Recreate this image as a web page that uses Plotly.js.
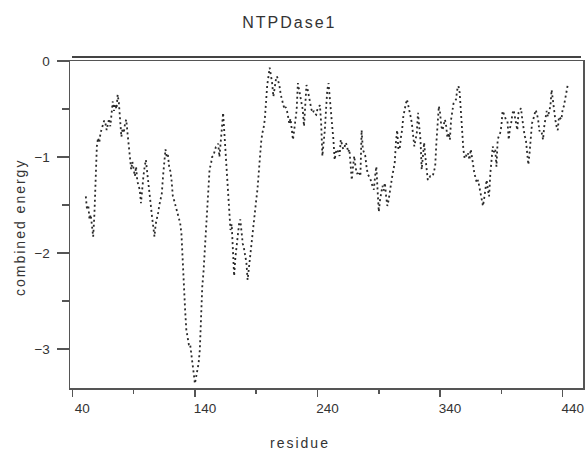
<!DOCTYPE html>
<html>
<head>
<meta charset="utf-8">
<script src="https://cdn.plot.ly/plotly-3.0.1.min.js"></script>
<style>
  html, body { margin: 0; padding: 0; background: #fff; }
  #chart { width: 587px; height: 451px; }
  .gtitle, .annotation-text { letter-spacing: 2px; }
</style>
</head>
<body>
<div id="chart"></div>
<script>
// residue numbers
const residues = [
  51,52,53,54,55,56,57,58,59,60,61,62,63,64,65,66,67,68,69,70,
  71,72,73,74,75,76,77,78,79,80,81,82,83,84,85,86,87,88,89,90,
  91,92,93,94,95,96,97,98,99,100,101,102,103,104,105,106,107,108,109,110,
  111,112,113,114,115,116,117,118,119,120,121,122,123,124,125,126,127,128,129,130,
  131,132,133,134,135,136,137,138,139,140,141,142,143,144,145,146,147,148,149,150,
  151,152,153,154,155,156,157,158,159,160,161,162,163,164,165,166,167,168,169,170,
  171,172,173,174,175,176,177,178,179,180,181,182,183,184,185,186,187,188,189,190,
  191,192,193,194,195,196,197,198,199,200,201,202,203,204,205,206,207,208,209,210,
  211,212,213,214,215,216,217,218,219,220,221,222,223,224,225,226,227,228,229,230,
  231,232,233,234,235,236,237,238,239,240,241,242,243,244,245,246,247,248,249,250,
  251,252,253,254,255,256,257,258,259,260,261,262,263,264,265,266,267,268,269,270,
  271,272,273,274,275,276,277,278,279,280,281,282,283,284,285,286,287,288,289,290,
  291,292,293,294,295,296,297,298,299,300,301,302,303,304,305,306,307,308,309,310,
  311,312,313,314,315,316,317,318,319,320,321,322,323,324,325,326,327,328,329,330,
  331,332,333,334,335,336,337,338,339,340,341,342,343,344,345,346,347,348,349,350,
  351,352,353,354,355,356,357,358,359,360,361,362,363,364,365,366,367,368,369,370,
  371,372,373,374,375,376,377,378,379,380,381,382,383,384,385,386,387,388,389,390,
  391,392,393,394,395,396,397,398,399,400,401,402,403,404,405,406,407,408,409,410,
  411,412,413,414,415,416,417,418,419,420,421,422,423,424,425,426,427,428,429,430,
  431,432,433,434,435,436,437,438,439,440,441,442,443,444
];
// combined energy per residue
const combinedEnergy = [
  -1.41,-1.55,-1.50,-1.65,-1.60,-1.70,-1.83,-1.60,-1.20,-0.89,-0.80,-0.85,-0.75,-0.70,-0.66,-0.62,-0.65,-0.72,-0.66,-0.60,
  -0.68,-0.58,-0.42,-0.52,-0.45,-0.50,-0.35,-0.44,-0.60,-0.79,-0.70,-0.75,-0.65,-0.61,-0.75,-0.89,-1.00,-1.13,-1.05,-1.15,
  -1.20,-1.10,-1.25,-1.30,-1.34,-1.48,-1.28,-1.20,-1.10,-1.03,-1.15,-1.25,-1.38,-1.50,-1.62,-1.75,-1.83,-1.70,-1.65,-1.58,
  -1.50,-1.42,-1.38,-1.20,-1.05,-0.92,-1.00,-0.98,-1.10,-1.15,-1.25,-1.41,-1.45,-1.50,-1.55,-1.58,-1.62,-1.69,-1.80,-2.10,
  -2.35,-2.59,-2.80,-2.87,-2.95,-2.94,-3.08,-3.15,-3.25,-3.36,-3.29,-3.22,-3.15,-3.01,-2.59,-2.35,-2.20,-1.97,-1.75,-1.55,
  -1.27,-1.12,-1.08,-1.00,-0.99,-0.95,-0.90,-0.89,-0.86,-1.00,-0.80,-0.70,-0.54,-0.75,-1.00,-1.20,-1.40,-1.58,-1.76,-1.70,
  -2.07,-2.24,-2.05,-1.93,-1.80,-1.70,-1.65,-1.82,-1.90,-1.95,-2.05,-2.10,-2.28,-2.15,-2.05,-1.97,-1.80,-1.65,-1.58,-1.45,
  -1.34,-1.15,-0.99,-0.85,-0.75,-0.70,-0.61,-0.37,-0.25,-0.16,-0.07,-0.15,-0.23,-0.37,-0.25,-0.20,-0.16,-0.20,-0.26,-0.35,
  -0.40,-0.44,-0.50,-0.48,-0.51,-0.58,-0.65,-0.60,-0.75,-0.82,-0.72,-0.60,-0.51,-0.23,-0.30,-0.35,-0.40,-0.51,-0.68,-0.45,
  -0.25,-0.30,-0.38,-0.44,-0.50,-0.54,-0.52,-0.55,-0.56,-0.50,-0.48,-0.46,-0.65,-0.99,-0.85,-0.72,-0.50,-0.30,-0.23,-0.40,
  -0.60,-0.68,-0.82,-1.03,-0.95,-0.92,-0.95,-0.99,-0.82,-0.88,-0.92,-0.90,-0.85,-0.88,-0.95,-0.92,-1.05,-1.24,-1.10,-0.99,
  -1.10,-1.17,-1.17,-1.15,-1.20,-0.72,-0.92,-0.95,-0.99,-1.10,-1.18,-1.20,-1.22,-1.27,-1.30,-1.34,-1.20,-1.10,-1.34,-1.57,
  -1.45,-1.38,-1.30,-1.35,-1.27,-1.41,-1.51,-1.45,-1.34,-1.28,-1.20,-1.12,-1.06,-0.85,-0.72,-0.92,-0.92,-0.80,-0.72,-0.58,
  -0.50,-0.45,-0.40,-0.45,-0.51,-0.58,-0.65,-0.79,-0.89,-0.82,-0.75,-0.54,-0.70,-0.82,-1.13,-0.96,-0.85,-1.00,-1.17,-1.24,
  -1.22,-1.20,-1.20,-1.20,-1.15,-1.10,-0.85,-0.68,-0.47,-0.54,-0.68,-0.72,-0.65,-0.61,-0.68,-0.80,-0.75,-0.82,-0.61,-0.50,
  -0.44,-0.42,-0.40,-0.30,-0.26,-0.33,-0.54,-0.72,-0.92,-1.01,-0.98,-1.00,-0.96,-1.03,-0.92,-1.00,-1.10,-1.17,-1.22,-1.27,
  -1.24,-1.31,-1.41,-1.45,-1.51,-1.43,-1.35,-1.24,-1.34,-1.41,-1.17,-0.99,-0.89,-0.95,-0.92,-1.10,-0.82,-0.78,-0.75,-0.68,
  -0.52,-0.55,-0.58,-0.62,-0.63,-0.82,-0.70,-0.65,-0.55,-0.51,-0.58,-0.65,-0.72,-0.54,-0.52,-0.49,-0.60,-0.72,-0.78,-0.82,
  -0.92,-1.08,-0.96,-0.75,-0.65,-0.61,-0.55,-0.51,-0.55,-0.61,-0.73,-0.72,-0.75,-0.82,-0.68,-0.60,-0.52,-0.58,-0.50,-0.47,
  -0.30,-0.40,-0.55,-0.61,-0.68,-0.72,-0.58,-0.60,-0.61,-0.50,-0.47,-0.40,-0.30,-0.26
];
const xTickVals = [40, 140, 240, 340, 440];
const xTickText = ['40', '140', '240', '340', '440'];
const xMinorVals = [90, 190, 290, 390];
const yTickVals = [0, -1, -2, -3];
const yTickText = ['0', '\u22121', '\u22122', '\u22123'];
const yMinorVals = [-0.5, -1.5, -2.5];

const axisColor = '#555';
const textColor = '#333';
const font = 'Liberation Sans, Arial, Helvetica, sans-serif';

const trace = {
  x: residues,
  y: combinedEnergy,
  type: 'scatter',
  mode: 'lines',
  line: { color: '#2a2a2a', width: 1.8, dash: '2px,3px' },
  hoverinfo: 'skip'
};

const layout = {
  width: 587,
  height: 451,
  margin: { l: 70, r: 4, t: 61, b: 63 },
  paper_bgcolor: '#fff',
  plot_bgcolor: '#fff',
  showlegend: false,
  font: { family: font, color: textColor, size: 13 },
  title: {
    text: 'NTPDase1',
    font: { family: font, size: 16, color: textColor },
    x: 0.493, xanchor: 'center', xref: 'container',
    y: 1 - 22 / 451, yanchor: 'middle', yref: 'container'
  },
  xaxis: {
    range: [38.1, 456.6],
    tickmode: 'array',
    tickvals: xTickVals,
    ticktext: xTickText,
    ticks: 'outside',
    ticklen: 7,
    tickwidth: 1.5,
    tickcolor: axisColor,
    ticklabelshift: 10,
    tickfont: { family: font, size: 13.5, color: textColor },
    minor: { tickmode: 'array', tickvals: xMinorVals, ticks: 'outside', ticklen: 4, tickwidth: 1.5, tickcolor: axisColor, showgrid: false },
    showline: true,
    linecolor: axisColor,
    linewidth: 1.5,
    mirror: true,
    showgrid: false,
    zeroline: false,
    fixedrange: true
  },
  yaxis: {
    range: [-327 / 96, 0],
    tickmode: 'array',
    tickvals: yTickVals,
    ticktext: yTickText,
    ticks: 'outside',
    ticklen: 12,
    tickwidth: 1.5,
    tickcolor: axisColor,
    ticklabelstandoff: 4,
    tickfont: { family: font, size: 13.5, color: textColor },
    minor: { tickmode: 'array', tickvals: yMinorVals, ticks: 'outside', ticklen: 7, tickwidth: 1.5, tickcolor: axisColor, showgrid: false },
    showline: true,
    linecolor: axisColor,
    linewidth: 1.5,
    mirror: true,
    showgrid: false,
    zeroline: false,
    fixedrange: true
  },
  shapes: [
    {
      type: 'line', xref: 'paper', yref: 'paper',
      x0: 2 / 513, x1: 511 / 513, y0: 1 + 4 / 327, y1: 1 + 4 / 327,
      line: { color: '#444', width: 2 }
    }
  ],
  annotations: [
    {
      text: 'residue', xref: 'paper', yref: 'paper',
      x: (299.5 - 70) / 513, y: -(443 - 388) / 327,
      xanchor: 'center', yanchor: 'middle', showarrow: false,
      font: { family: font, size: 14, color: textColor }
    },
    {
      text: 'combined energy', xref: 'paper', yref: 'paper',
      x: (20 - 70) / 513, y: (388 - 228) / 327,
      xanchor: 'center', yanchor: 'middle', showarrow: false, textangle: -90,
      font: { family: font, size: 14, color: textColor }
    }
  ]
};

Plotly.newPlot('chart', [trace], layout, { staticPlot: true, displayModeBar: false });
</script>
</body>
</html>
